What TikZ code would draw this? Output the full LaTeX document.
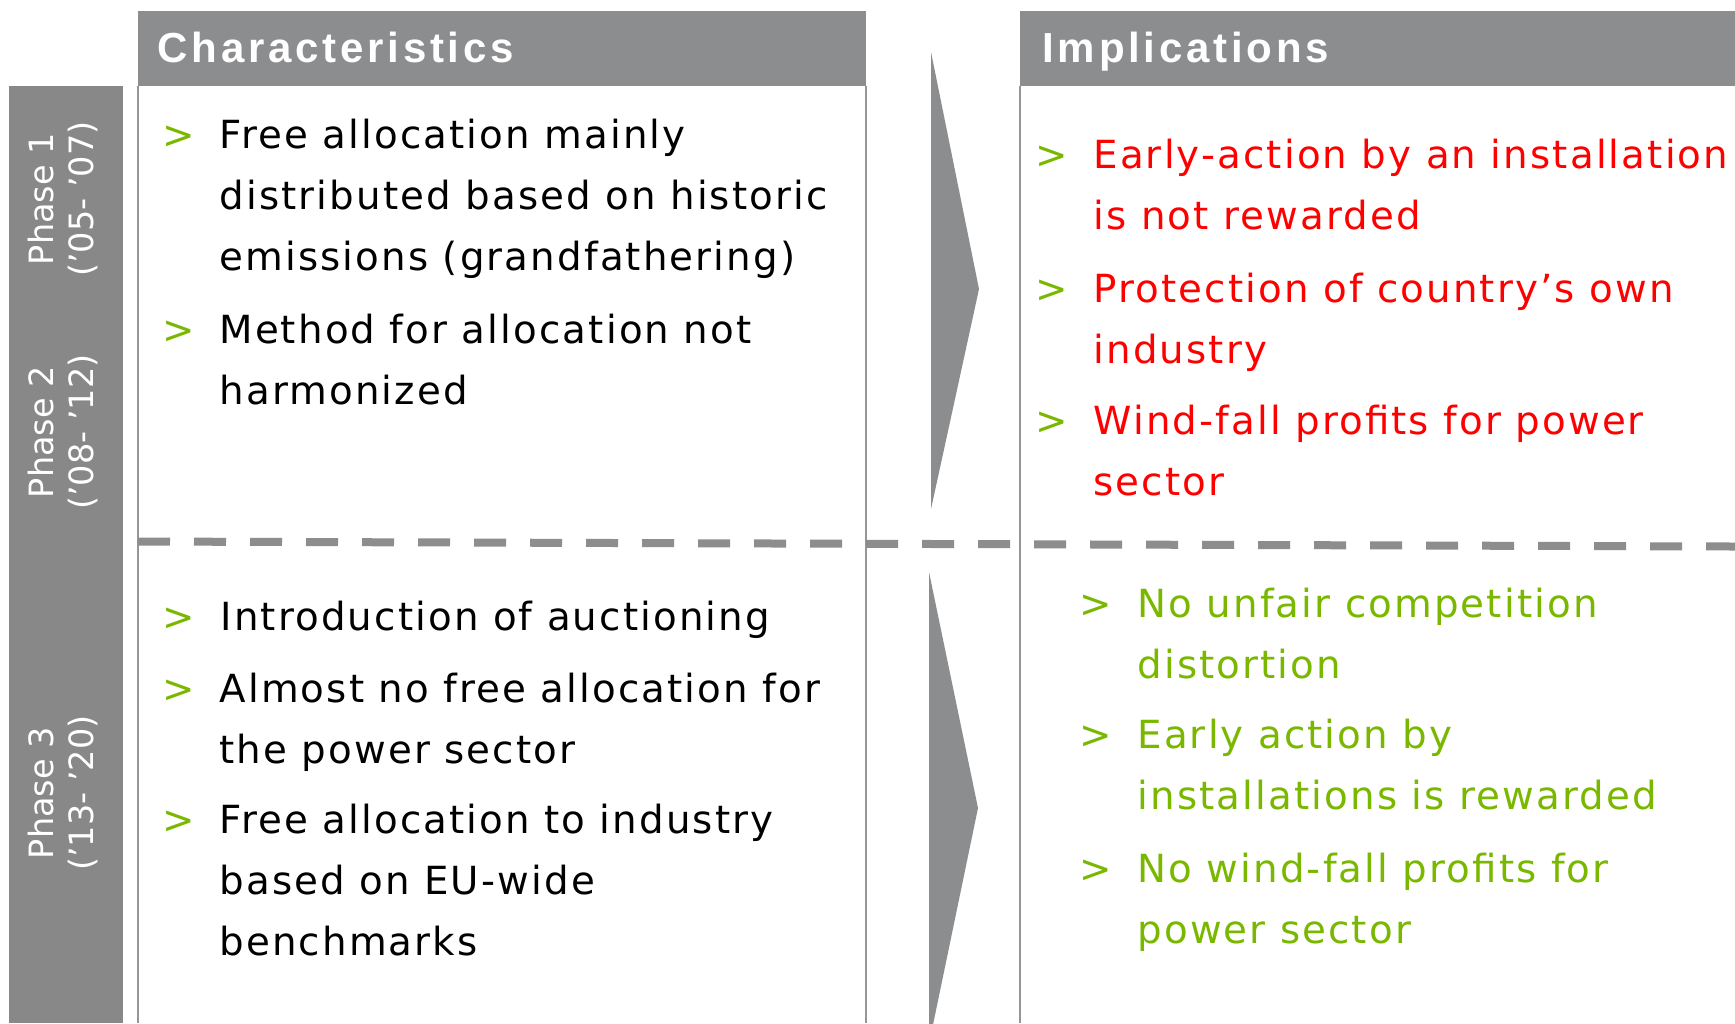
\documentclass[tikz,border=0pt]{standalone}
\usepackage{fontspec}
\setmainfont{DejaVu Sans}
\newfontfamily\bodyfont[LetterSpace=5.5]{DejaVu Sans}
\newfontfamily\headfont[LetterSpace=9]{Liberation Sans}
\newfontfamily\phasefont{DejaVu Sans}

\definecolor{hdrgrey}{RGB}{140,141,143}
\definecolor{bargrey}{RGB}{136,136,136}
\definecolor{rulegrey}{RGB}{150,150,150}
\definecolor{okgreen}{RGB}{122,184,0}
\definecolor{alertred}{RGB}{255,0,0}

% stacked lines whose baseline is that of the first line
\newcommand\linestack[1]{\vtop{\baselineskip=24.4pt\halign{##\hfil\cr#1\crcr}}}

\tikzset{
  hdr/.style={fill=hdrgrey},
  bar/.style={fill=bargrey},
  frame/.style={draw=rulegrey, line width=0.8pt},
  divider/.style={draw=hdrgrey, line width=3.2pt, dash pattern=on 12.8pt off 9.6pt},
  chev/.style={fill=hdrgrey},
  hdrtxt/.style={anchor=base west, inner sep=0pt, text=white,
    font=\headfont\bfseries\fontsize{16.8pt}{20pt}\selectfont},
  marker/.style={anchor=base west, inner sep=0pt, text=okgreen,
    font=\bodyfont\fontsize{15.5pt}{24.4pt}\selectfont},
  item/.style={anchor=base west, inner sep=0pt,
    font=\bodyfont\fontsize{15.5pt}{24.4pt}\selectfont},
  phase/.style={rotate=90, align=center, inner sep=0pt, text=white,
    font=\phasefont\fontsize{13.4pt}{16.2pt}\selectfont},
}

\begin{document}
\begin{tikzpicture}[x=0.4pt, y=-0.4pt]
  \fill[white] (0,0) rectangle (1735,1023);
  \useasboundingbox (0,0) rectangle (1735,1023);

  % column headers and phase bar
  \fill[hdr] (138,11) rectangle (866,86);
  \fill[hdr] (1020,11) rectangle (1735,86);
  \fill[bar] (9,86) rectangle (123,1023);

  % column frames
  \draw[frame] (138,86) -- (138,1023);
  \draw[frame] (866,86) -- (866,1023);
  \draw[frame] (1020,86) -- (1020,1023);

  % divider between phases 1-2 and phase 3
  \coordinate (dl) at (138,541.5);
  \coordinate (dr) at (1735,546.5);
  \draw[divider] (dl) -- (dr);

  % chevrons
  \fill[chev] (931,52) -- (979,289) -- (931,509) -- cycle;
  \fill[chev] (929,572) -- (978,808) -- (929,1044) -- cycle;

  % header texts
  \node[hdrtxt] (hchar) at (157,62) {Characteristics};
  \node[hdrtxt] (himp) at (1042,62) {Implications};

  % phase labels
  \node[phase] (p1) at (63,199) {Phase 1\\(’05- ’07)};
  \node[phase] (p2) at (63,432) {Phase 2\\(’08- ’12)};
  \node[phase] (p3) at (63,793) {Phase 3\\(’13- ’20)};

  % characteristics, phases 1 and 2
  \node[marker] (mc1) at (162,148) {>};
  \node[item] (c1) at (219,148) {\linestack{Free allocation mainly\cr distributed based on historic\cr emissions (grandfathering)}};
  \node[marker] (mc2) at (162,343) {>};
  \node[item] (c2) at (219,343) {\linestack{Method for allocation not\cr harmonized}};

  % characteristics, phase 3
  \node[marker] (mc3) at (162,630) {>};
  \node[item] (c3) at (220,630) {\linestack{Introduction of auctioning}};
  \node[marker] (mc4) at (162,702) {>};
  \node[item] (c4) at (219,702) {\linestack{Almost no free allocation for\cr the power sector}};
  \node[marker] (mc5) at (162,833) {>};
  \node[item] (c5) at (219,833) {\linestack{Free allocation to industry\cr based on EU-wide\cr benchmarks}};

  % implications, phases 1 and 2
  \node[marker] (mi1) at (1035,168) {>};
  \node[item, text=alertred] (i1) at (1093,168) {\linestack{Early-action by an installation\cr is not rewarded}};
  \node[marker] (mi2) at (1035,302) {>};
  \node[item, text=alertred] (i2) at (1093,302) {\linestack{Protection of country’s own\cr industry}};
  \node[marker] (mi3) at (1035,434) {>};
  \node[item, text=alertred] (i3) at (1093,434) {\linestack{Wind-fall profits for power\cr sector}};

  % implications, phase 3
  \node[marker] (mi4) at (1079,617) {>};
  \node[item, text=okgreen] (i4) at (1137,617) {\linestack{No unfair competition\cr distortion}};
  \node[marker] (mi5) at (1079,748) {>};
  \node[item, text=okgreen] (i5) at (1137,748) {\linestack{Early action by\cr installations is rewarded}};
  \node[marker] (mi6) at (1079,882) {>};
  \node[item, text=okgreen] (i6) at (1137,882) {\linestack{No wind-fall profits for\cr power sector}};
\end{tikzpicture}
\end{document}
